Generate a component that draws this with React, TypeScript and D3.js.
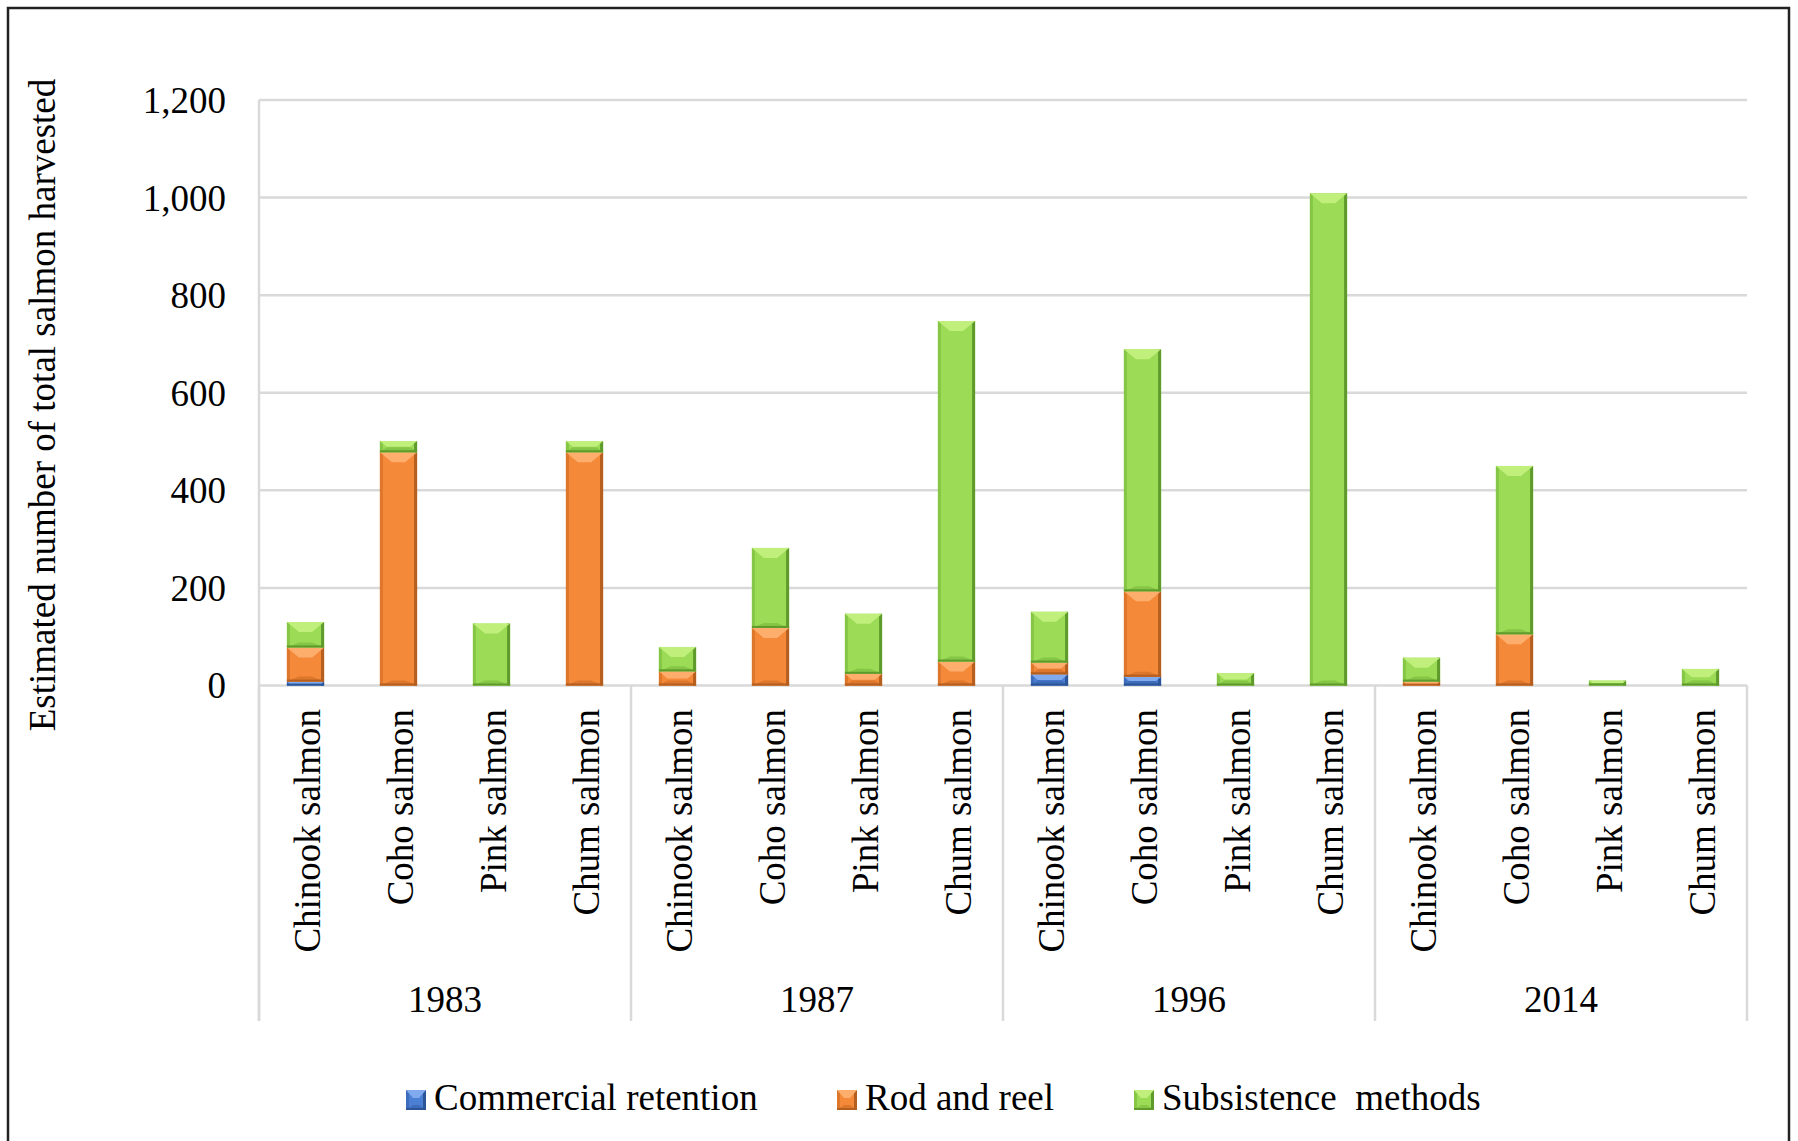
import React from "react";
import * as d3 from "d3";

const years = ["1983", "1987", "1996", "2014"];
const species = ["Chinook salmon", "Coho salmon", "Pink salmon", "Chum salmon"];
const seriesNames = ["Commercial retention", "Rod and reel", "Subsistence  methods"];
const commercial = [8, 0, 0, 0, 0, 0, 0, 0, 23, 18, 0, 0, 0, 0, 0, 0];
const rodReel = [70, 478, 0, 478, 29, 118, 24, 49, 24, 175, 0, 0, 8, 105, 0, 0];
const subsistence = [52, 23, 127, 23, 50, 164, 123, 698, 104, 496, 25, 1009, 49, 345, 10, 34];
const yTicks = [0, 200, 400, 600, 800, 1000, 1200];

const W = 1798;
const H = 1141;
const FONT = "'Liberation Serif', 'Times New Roman', serif";

const palettes = [
  { main: "#4a7fd4", light: "#80a9ee", dark: "#2c5597", side: "#3d6cbb" },
  { main: "#f5893a", light: "#fdae6c", dark: "#b45e1f", side: "#dc772c" },
  { main: "#9bdb55", light: "#c0ef7c", dark: "#5f9a2c", side: "#86c646" },
];

function BevelRect({ x, y, w, h, p, top = 10, inset = 12 }: any) {
  if (h <= 0) return null;
  const bt = Math.min(top, h / 2);
  const ins = Math.min(inset, w / 2 - 2) * (bt / top);
  const bb = Math.min(5, h / 2);
  const bs = Math.min(3, w / 4);
  const pts = (arr: number[][]) => arr.map((a) => a.join(",")).join(" ");
  return (
    <g>
      <rect x={x} y={y} width={w} height={h} fill={p.main} />
      <polygon points={pts([[x, y + h], [x + w, y + h], [x + w - ins, y + h - bb], [x + ins, y + h - bb]])} fill={p.side} />
      <rect x={x} y={y} width={bs} height={h} fill={p.side} />
      <rect x={x + w - bs} y={y} width={bs} height={h} fill={p.dark} />
      <rect x={x} y={y + h - 2} width={w} height={Math.min(2, h)} fill={p.dark} />
      <polygon points={pts([[x, y], [x + w, y], [x + w - ins, y + bt], [x + ins, y + bt]])} fill={p.light} />
    </g>
  );
}

export default function App() {
  const left = 259;
  const right = 1747;
  const y0 = 685.5;
  const yTop = 100;
  const axisBottom = 1021;

  const n = years.length * species.length;
  const idx = d3.range(n).map(String);
  const x = d3.scaleBand<string>().domain(idx).range([left, right]).paddingInner(0.6).paddingOuter(0.3);
  const step = x.step();
  const y = d3.scaleLinear().domain([0, 1200]).range([y0, yTop]);

  const stackData = idx.map((k, i) => ({ key: k, c: commercial[i], r: rodReel[i], s: subsistence[i] }));
  const stack = d3.stack<any>().keys(["c", "r", "s"])(stackData);

  const groupW = step * species.length;

  return (
    <svg width={W} height={H} style={{ position: "absolute", left: 0, top: 0, background: "#fff" }} fontFamily={FONT}>
      <rect x={0} y={0} width={W} height={H} fill="#fff" />
      <rect x={8} y={8} width={1781} height={1160} fill="none" stroke="#222" strokeWidth={2.5} />

      {yTicks.map((t) => (
        <line key={t} x1={left} x2={right} y1={y(t)} y2={y(t)} stroke="#d9d9d9" strokeWidth={2.5} />
      ))}
      <line x1={left} x2={left} y1={yTop} y2={axisBottom} stroke="#d9d9d9" strokeWidth={2.5} />
      {d3.range(years.length + 1).map((g) => (
        <line key={g} x1={left + g * groupW} x2={left + g * groupW} y1={y0} y2={axisBottom} stroke="#d9d9d9" strokeWidth={2.5} />
      ))}

      {yTicks.map((t) => (
        <text key={t} x={226} y={y(t)} dy="0.35em" textAnchor="end" fontSize={37} fill="#000">
          {d3.format(",")(t)}
        </text>
      ))}

      <text transform={`translate(55,405) rotate(-90)`} textAnchor="middle" fontSize={37} fill="#000">
        Estimated number of total salmon harvested
      </text>

      {stack.map((layer, li) =>
        layer.map((d: any, i: number) => {
          const xx = x(idx[i]) as number;
          const top = y(d[1]);
          const bot = y(d[0]);
          return <BevelRect key={`${li}-${i}`} x={xx} y={top} w={x.bandwidth()} h={bot - top} p={palettes[li]} />;
        })
      )}

      {idx.map((k, i) => {
        const cx = (x(k) as number) + x.bandwidth() / 2;
        return (
          <text key={k} transform={`translate(${cx + 14},709) rotate(-90)`} textAnchor="end" fontSize={37} fill="#000">
            {species[i % species.length]}
          </text>
        );
      })}

      {years.map((yr, g) => (
        <text key={yr} x={left + g * groupW + groupW / 2} y={1012} textAnchor="middle" fontSize={37} fill="#000">
          {yr}
        </text>
      ))}

      {[
        { x: 406, tx: 434 },
        { x: 837, tx: 865 },
        { x: 1134, tx: 1162 },
      ].map((l, i) => (
        <g key={i}>
          <BevelRect x={l.x} y={1090} w={20} h={20} p={palettes[i]} top={8} inset={7} />
          <text x={l.tx} y={1110} fontSize={37} fill="#000" style={{ whiteSpace: "pre" }}>
            {seriesNames[i]}
          </text>
        </g>
      ))}
    </svg>
  );
}
